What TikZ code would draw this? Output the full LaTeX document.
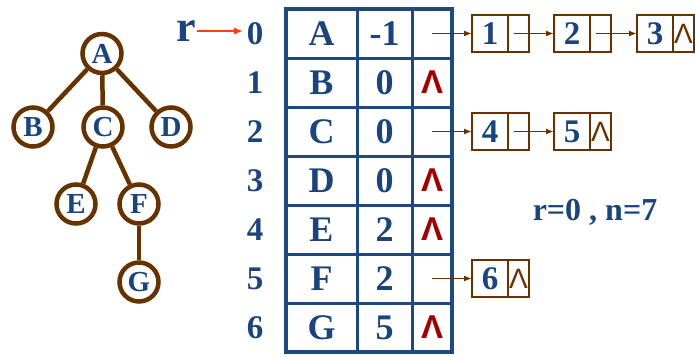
\documentclass[tikz,border=0pt]{standalone}
\usepackage{fontspec}
\setmainfont{Liberation Serif}
\newfontfamily\lamfont{Liberation Sans}
\usetikzlibrary{arrows.meta,positioning}
\definecolor{TabBlue}{RGB}{31,73,125}
\definecolor{TextBlue}{RGB}{27,68,122}
\definecolor{TreeBrown}{RGB}{102,51,0}
\definecolor{NullRed}{RGB}{160,0,0}
\definecolor{ArrowRed}{RGB}{255,62,10}
\newcommand\nul{\textcolor{NullRed}{\lamfont\fontsize{33}{33}\selectfont Λ}}
\newcommand\lnul{\textcolor{TreeBrown}{\lamfont\fontsize{28}{28}\selectfont Λ}}

\begin{document}
\begin{tikzpicture}[x=1pt,y=-1pt,
    treenode/.style={circle, draw=TreeBrown, line width=4.5pt, minimum size=39pt, inner sep=0pt, text=TextBlue, font=\fontsize{29}{29}\selectfont\bfseries},
    treeedge/.style={draw=TreeBrown, line width=4.5pt},
    cell/.style={draw=TabBlue, line width=3pt, minimum height=49pt, inner sep=0pt, outer sep=0pt, text=TextBlue, font=\fontsize{36}{36}\selectfont\bfseries},
    idx/.style={text=TextBlue, font=\fontsize{33}{33}\selectfont\bfseries},
    databox/.style={draw=TreeBrown, line width=1.8pt, minimum width=36pt, minimum height=37pt, inner sep=0pt, outer sep=0pt, text=TextBlue, font=\fontsize{33}{33}\selectfont\bfseries},
    ptrbox/.style={draw=TreeBrown, line width=1.8pt, minimum width=21pt, minimum height=37pt, inner sep=0pt, outer sep=0pt},
    link/.style={-{Latex[length=8pt,width=6pt]}, draw=TreeBrown, line width=1.6pt},
    rarrow/.style={-{Latex[length=9pt,width=7pt]}, draw=ArrowRed, line width=2.5pt}
  ]
    \useasboundingbox (0,0) rectangle (695,356);

    % tree
    \node[treenode] (A) at (102,53.5) {A};
    \node[treenode] (B) at (33,127) {B};
    \node[treenode] (C) at (103,127) {C};
    \node[treenode] (D) at (171,127) {D};
    \node[treenode] (E) at (76,204) {E};
    \node[treenode] (F) at (139,204) {F};
    \node[treenode] (G) at (139,282) {G};
    \foreach \s/\t in {A/B,A/C,A/D,C/E,C/F,F/G}
      \draw[treeedge] (\s) -- (\t);

    % parent table with child lists
    \foreach \k/\nm/\pa/\nx in {0/A/-1/{},1/B/0/\nul,2/C/0/{},3/D/0/\nul,4/E/2/\nul,5/F/2/{},6/G/5/\nul}{
      \node[idx] (i\k) at (255,33.5+49*\k) {\k};
      \node[cell, minimum width=71pt] (n\k) at (321.5,33.5+49*\k) {\nm};
      \node[cell, minimum width=55pt] (f\k) at (384.5,33.5+49*\k) {\pa};
      \node[cell, minimum width=40pt] (p\k) at (432,33.5+49*\k) {\nx};
    }
    \draw[TabBlue, line width=4.5pt] (n0.north west) rectangle (p6.south east);

    \node[text=TextBlue, font=\fontsize{44}{44}\selectfont\bfseries, inner sep=1pt] (r) at (186,31) {r};
    \draw[rarrow] (r.east) -- (r.east -| i0.west);

    \node[databox] (d1) at (490,33.5) {1};
    \node[ptrbox, right=0pt of d1] (q1) {};
    \node[databox] (d2) at (572,33.5) {2};
    \node[ptrbox, right=0pt of d2] (q2) {};
    \node[databox] (d3) at (655,33.5) {3};
    \node[ptrbox, right=0pt of d3] (q3) {\lnul};
    \node[databox] (d4) at (490,131.5) {4};
    \node[ptrbox, right=0pt of d4] (q4) {};
    \node[databox] (d5) at (572,131.5) {5};
    \node[ptrbox, right=0pt of d5] (q5) {\lnul};
    \node[databox] (d6) at (490,278.5) {6};
    \node[ptrbox, right=0pt of d6] (q6) {\lnul};

    \draw[link] (p0.center) -- (d1.west);
    \draw[link] ([xshift=-5pt]q1.center) -- (d2.west);
    \draw[link] ([xshift=-5pt]q2.center) -- (d3.west);
    \draw[link] (p2.center) -- (d4.west);
    \draw[link] ([xshift=-5pt]q4.center) -- (d5.west);
    \draw[link] (p5.center) -- (d6.west);

    \node[text=TextBlue, font=\fontsize{32}{32}\selectfont\bfseries] (info) at (595,212) {r=0 , n=7};
  \end{tikzpicture}
\end{document}
